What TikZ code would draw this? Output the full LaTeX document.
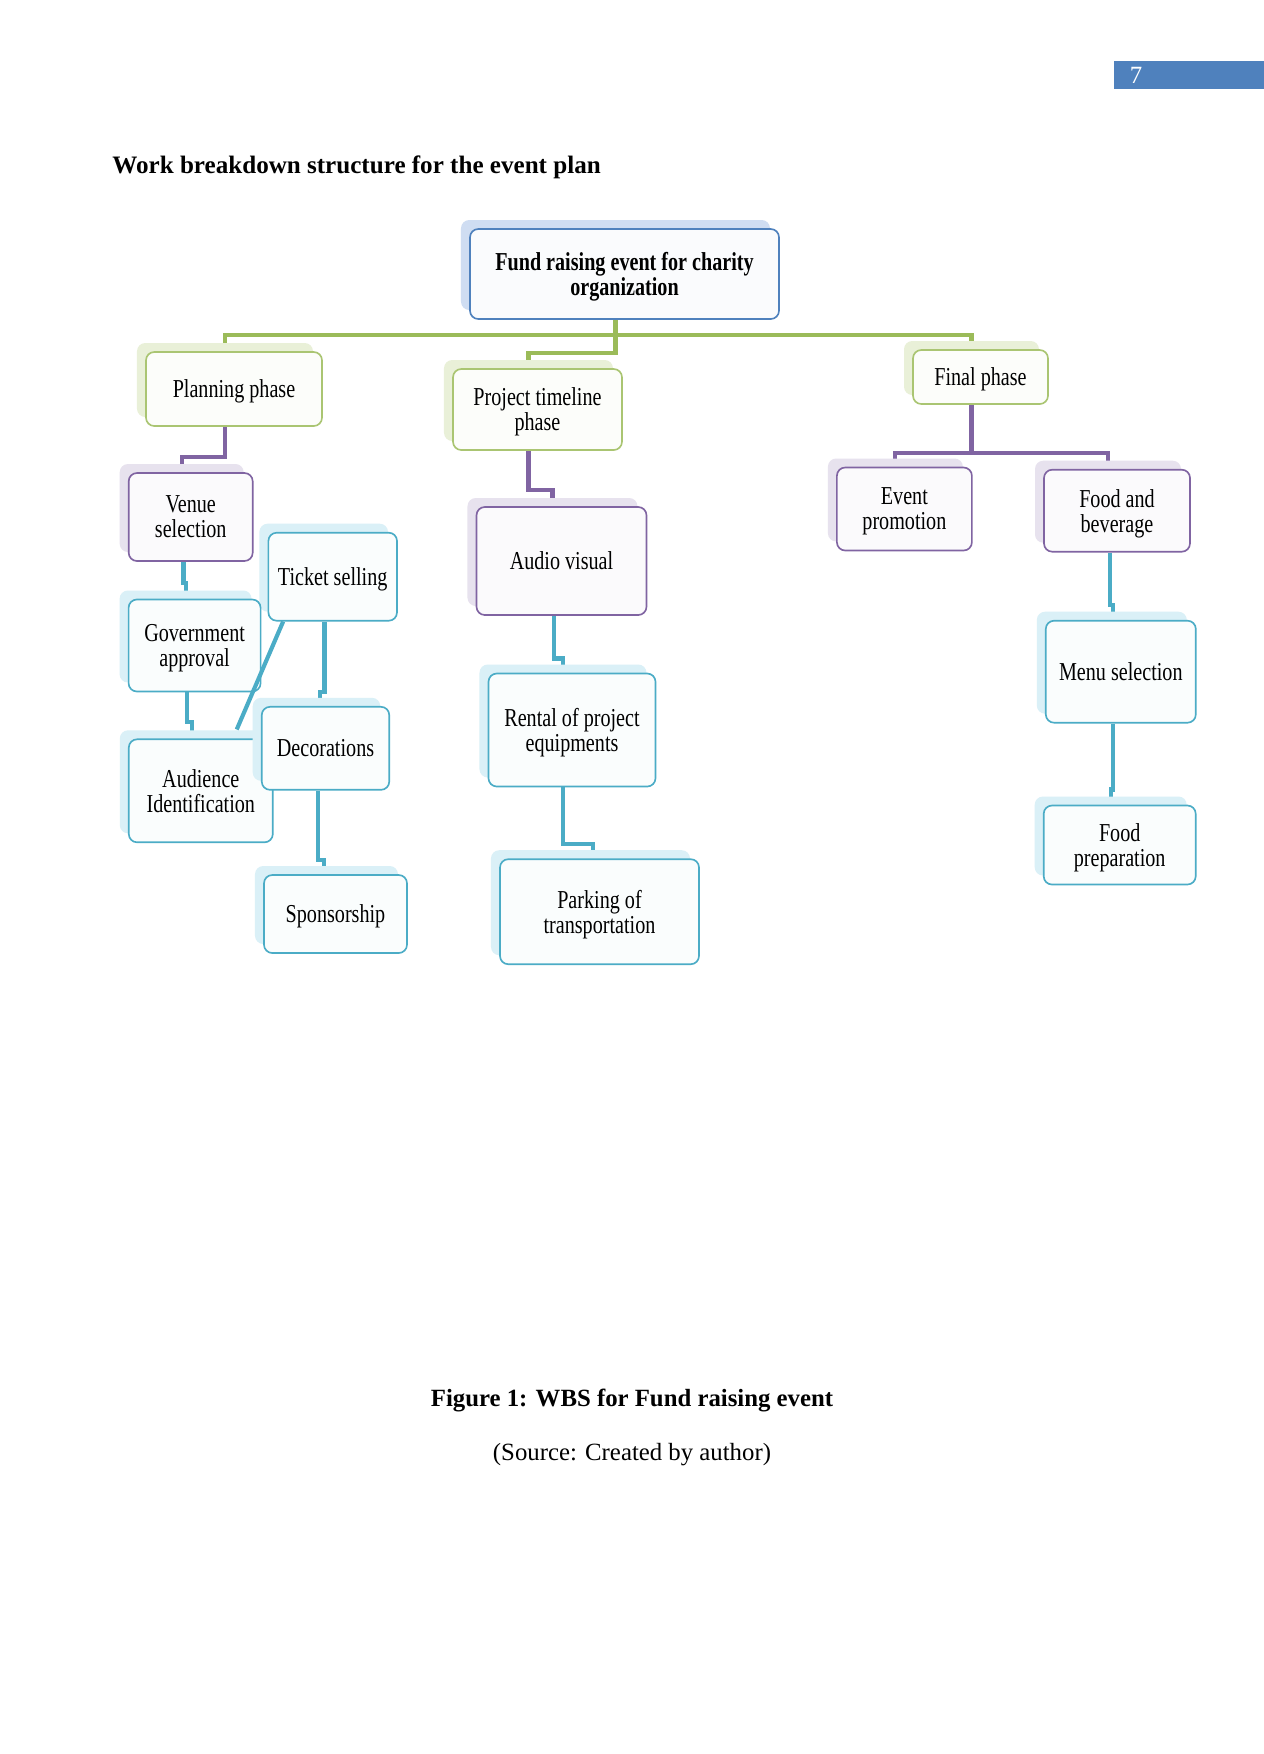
\documentclass[tikz,border=0pt]{standalone}
\usepackage{fontspec}
\setmainfont{Liberation Serif}
\newfontfamily\boxfont{Liberation Serif}[FakeStretch=0.78]
\usetikzlibrary{shadows,calc}
\definecolor{lgreen}{HTML}{9BBB59}
\definecolor{lpurple}{HTML}{8064A2}
\definecolor{lteal}{HTML}{4BACC6}
\definecolor{lblue}{HTML}{4F81BD}
\definecolor{gshadow}{HTML}{E9F0D8}
\definecolor{pshadow}{HTML}{E7E2EE}
\definecolor{tshadow}{HTML}{DAF0F7}
\definecolor{bshadow}{HTML}{CFDDF2}
\definecolor{pagebar}{HTML}{4F81BD}
\pgfdeclarelayer{paper}
\pgfdeclarelayer{bg}
\pgfsetlayers{paper,bg,main}
\tikzset{
  sz/.style 2 args={minimum width=#1*0.4842pt, minimum height=#2*0.4842pt},
  wbox/.style={rounded corners=4pt, line width=0.8pt, align=center, inner sep=0pt,
    text depth=0pt, font=\boxfont\fontsize{12.5}{12.1}\selectfont},
  rootbox/.style={wbox, draw=lblue, fill=lblue!3,
    general shadow={shadow xshift=-4.36pt, shadow yshift=4.36pt, fill=bshadow, draw=none}},
  greenbox/.style={wbox, draw=lgreen!85, fill=lgreen!3,
    general shadow={shadow xshift=-4.36pt, shadow yshift=4.36pt, fill=gshadow, draw=none}},
  purplebox/.style={wbox, draw=lpurple, fill=lpurple!3,
    general shadow={shadow xshift=-4.36pt, shadow yshift=4.36pt, fill=pshadow, draw=none}},
  tealbox/.style={wbox, draw=lteal, fill=lteal!3,
    general shadow={shadow xshift=-4.36pt, shadow yshift=4.36pt, fill=tshadow, draw=none}},
  conn/.style={line width=2pt},
  gline/.style={conn, draw=lgreen},
  pline/.style={conn, draw=lpurple},
  tline/.style={conn, draw=lteal},
}
\begin{document}
\begin{tikzpicture}[x=0.4842pt,y=-0.4842pt]
\useasboundingbox (0,0) rectangle (1264,1754);
\begin{pgfonlayer}{paper}
\fill[white] (0,0) rectangle (1264,1754);
\end{pgfonlayer}

% page number
\node[fill=pagebar, draw=none, sz={150}{28}, inner sep=0pt] (pbar) at (1189,75) {};
\node[text=white, font=\fontsize{12}{14}\selectfont, anchor=base] (pnum) at (1136,83) {7};

% title
\node[anchor=base west, font=\bfseries\fontsize{12.15}{14}\selectfont, inner sep=0pt] (title) at (112,173) {Work breakdown structure for the event plan};

% boxes
\node[rootbox, sz={309}{90}, font=\boxfont\bfseries\fontsize{12.5}{12.1}\selectfont] (root) at (624.5,274) {Fund raising event for charity\\organization};
\node[greenbox, sz={176}{74}] (plan) at (234,389) {Planning phase};
\node[greenbox, sz={169}{81}] (proj) at (537.5,409.5) {Project timeline\\phase};
\node[greenbox, sz={135}{54}] (final) at (980.5,377) {Final phase};

\node[purplebox, sz={124}{88}] (venue) at (190.7,517) {Venue\\selection};
\node[tealbox, sz={128.6}{88}] (ticket) at (332.7,576.7) {Ticket selling};
\node[tealbox, sz={132}{92}] (gov) at (194.6,645.5) {Government\\approval};
\node[tealbox, sz={144}{103}] (aud) at (200.8,790.8) {Audience\\Identification};
\node[tealbox, sz={127.5}{83}] (dec) at (325.5,748.3) {Decorations};
\node[tealbox, sz={143}{78}] (spons) at (335.5,914) {Sponsorship};

\node[purplebox, sz={170}{108}] (audio) at (561.5,561) {Audio visual};
\node[tealbox, sz={167}{113}] (rental) at (572,730) {Rental of project\\equipments};
\node[tealbox, sz={199}{105}] (park) at (599.5,911.7) {Parking of\\transportation};

\node[purplebox, sz={135}{83}] (event) at (904.4,509) {Event\\promotion};
\node[purplebox, sz={146}{82}] (food) at (1117,510.7) {Food and\\beverage};
\node[tealbox, sz={150}{102}] (menu) at (1120.8,671.7) {Menu selection};
\node[tealbox, sz={152}{79}] (fprep) at (1119.7,845) {Food\\preparation};

% connectors
\begin{pgfonlayer}{bg}
\draw[gline] ([xshift=-4.36pt]root.south) -- ++(0,15.5) -| ([xshift=-4.36pt]plan.north);
\draw[gline] ([xshift=-4.36pt]root.south) -- ++(0,15.5) -| ([xshift=-4.36pt]final.north);
\draw[gline] ([xshift=-4.36pt]root.south) -- ++(0,33.5) -| ([xshift=-4.36pt]proj.north);

\draw[pline] ([xshift=-4.36pt]plan.south) -- ++(0,30) -| ([xshift=-4.36pt]venue.north);
\draw[pline] ([xshift=-4.36pt]proj.south) -- ++(0,39) -| ([xshift=-4.36pt]audio.north);
\draw[pline] ([xshift=-4.36pt]final.south) -- ++(0,48) -| ([xshift=-4.36pt]event.north);
\draw[pline] ([xshift=-4.36pt]final.south) -- ++(0,48) -| ([xshift=-4.36pt]food.north);

\draw[tline] ([xshift=-3.5pt]venue.south) -- ++(0,21) -| ([xshift=-4.36pt]gov.north);
\draw[tline] ([xshift=-3.8pt]gov.south) -- ++(0,30) -| ([xshift=-4.36pt]aud.north);
\draw[tline] ([xshift=-4pt]ticket.south) -- ++(0,70.5) -| ([xshift=-2.6pt]dec.north);
\draw[tline] ([xshift=-3.8pt]dec.south) -- ++(0,69) -| ([xshift=-5.4pt]spons.north);
\draw[tline] ([xshift=-3.8pt]audio.south) -- ++(0,42.7) -| ([xshift=-4.36pt]rental.north);
\draw[tline] ([xshift=-4.36pt]rental.south) -- ++(0,57) -| ([xshift=-3.2pt]park.north);
\draw[tline] ([xshift=-3.5pt]food.south) -- ++(0,52.5) -| ([xshift=-3.8pt]menu.north);
\draw[tline] ([xshift=-3.8pt]menu.south) -- ++(0,66) -| ([xshift=-4.2pt]fprep.north);
\end{pgfonlayer}
\coordinate (diagend) at ([xshift=17.4pt, yshift=4.36pt]aud.north);
\draw[tline] ([xshift=-24pt]ticket.south) -- (diagend);

% caption
\node[anchor=base, font=\bfseries\fontsize{12}{14}\selectfont, inner sep=0pt] (cap) at (632,1406) {Figure 1: WBS for Fund raising event};
\node[anchor=base, font=\fontsize{12}{14}\selectfont, inner sep=0pt] (src) at (632,1460) {(Source: Created by author)};
\end{tikzpicture}
\end{document}
